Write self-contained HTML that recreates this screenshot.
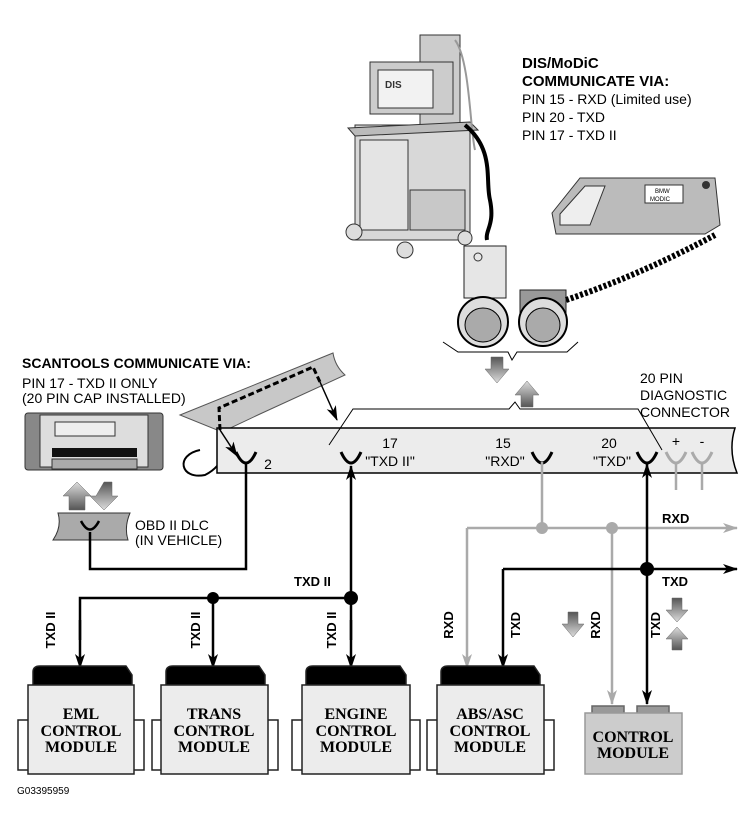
<!DOCTYPE html>
<html><head><meta charset="utf-8"><style>
html,body{margin:0;padding:0;background:#fff;}
svg{display:block;}
.s{font-family:"Liberation Sans",sans-serif;}
.m{font-family:"Liberation Serif",serif;font-weight:bold;font-size:16px;text-anchor:middle;}
</style></head><body>
<svg width="750" height="825" viewBox="0 0 750 825" xmlns="http://www.w3.org/2000/svg">
<defs>
<marker id="ab" markerWidth="15" markerHeight="10" refX="14" refY="5" orient="auto" markerUnits="userSpaceOnUse" viewBox="0 0 15 10"><path d="M0,0 L15,5 L0,10 L4,5 Z" fill="#000"/></marker>
<marker id="ag" markerWidth="15" markerHeight="10" refX="14" refY="5" orient="auto" markerUnits="userSpaceOnUse" viewBox="0 0 15 10"><path d="M0,0 L15,5 L0,10 L4,5 Z" fill="#aaa"/></marker>
<linearGradient id="gd" x1="0" y1="0" x2="0" y2="1"><stop offset="0" stop-color="#555"/><stop offset="1" stop-color="#ddd"/></linearGradient>
<linearGradient id="gu" x1="0" y1="1" x2="0" y2="0"><stop offset="0" stop-color="#555"/><stop offset="1" stop-color="#ddd"/></linearGradient>
</defs>

<!-- DIS cart -->
<g stroke="#333" stroke-width="1" fill="#ddd">
<path d="M420,35 h40 v90 h-40z" fill="#ccc"/>
<rect x="355" y="125" width="115" height="115" fill="#d8d8d8"/>
<path d="M348,128 L470,122 L478,130 L355,136 Z" fill="#bbb"/>
<rect x="360" y="140" width="48" height="90" fill="#e4e4e4"/>
<rect x="410" y="190" width="55" height="40" fill="#c8c8c8"/>
<rect x="370" y="62" width="83" height="52" fill="#ccc"/>
<rect x="378" y="70" width="55" height="38" fill="#f2f2f2"/>
<text x="385" y="88" font-size="10" font-weight="bold" fill="#333" stroke="none" class="s">DIS</text>
<circle cx="354" cy="232" r="8" fill="#ddd"/>
<circle cx="405" cy="250" r="8" fill="#ddd"/>
<circle cx="465" cy="238" r="7" fill="#ddd"/>
</g>
<path d="M455,40 C470,60 470,130 475,150" stroke="#999" stroke-width="2" fill="none"/>
<path d="M465,125 C495,150 485,180 490,200 C495,225 485,230 487,240" stroke="#000" stroke-width="4" fill="none"/>
<!-- DIS connector -->
<rect x="464" y="246" width="42" height="52" fill="#e6e6e6" stroke="#222"/>
<circle cx="478" cy="257" r="4" fill="none" stroke="#333"/>
<ellipse cx="483" cy="322" rx="25" ry="25" fill="#ddd" stroke="#000" stroke-width="2"/>
<ellipse cx="483" cy="325" rx="18" ry="17" fill="#aaa" stroke="#000"/>
<!-- MoDiC connector -->
<rect x="520" y="290" width="46" height="30" fill="#999" stroke="#222"/>
<ellipse cx="543" cy="322" rx="24" ry="24" fill="#ddd" stroke="#000" stroke-width="2"/>
<ellipse cx="543" cy="325" rx="17" ry="17" fill="#aaa" stroke="#000"/>
<path d="M566,300 Q640,275 715,235" stroke="#000" stroke-width="6" stroke-dasharray="3 2" fill="none"/>
<!-- MoDiC handset -->
<path d="M552,213 L580,178 L715,178 L720,225 L705,234 L556,234 Z" fill="#bbb" stroke="#333"/>
<path d="M560,214 L585,186 L605,186 L590,225 L560,225 Z" fill="#eee" stroke="#333"/>
<rect x="645" y="185" width="38" height="18" fill="#fff" stroke="#333"/>
<text x="655" y="193" font-size="6" class="s">BMW</text><text x="650" y="201" font-size="6" class="s">MODIC</text>
<circle cx="706" cy="185" r="4" fill="#333"/>
<!-- brace -->
<path d="M443,342 L458,352 L508,352 L512,360 L517,352 L567,352 L578,342" stroke="#000" fill="none"/>
<path d="M491,357 h12 v12 h6 l-12,14 l-12,-14 h6z" fill="url(#gd)" stroke="#666" stroke-width=".5"/>
<path d="M521,407 h12 v-12 h6 l-12,-14 l-12,14 h6z" fill="url(#gu)" stroke="#666" stroke-width=".5"/>

<text class="s" font-size="15" font-weight="bold" x="522" y="68">DIS/MoDiC</text>
<text class="s" font-size="15" font-weight="bold" x="522" y="86">COMMUNICATE VIA:</text>
<text class="s" font-size="14" x="522" y="104">PIN 15 - RXD (Limited use)</text>
<text class="s" font-size="14" x="522" y="122">PIN 20 - TXD</text>
<text class="s" font-size="14" x="522" y="140">PIN 17 - TXD II</text>

<text class="s" font-size="14" x="640" y="383">20 PIN</text>
<text class="s" font-size="14" x="640" y="400">DIAGNOSTIC</text>
<text class="s" font-size="14" x="640" y="417">CONNECTOR</text>

<text class="s" font-size="14" font-weight="bold" x="22" y="368">SCANTOOLS COMMUNICATE VIA:</text>
<text class="s" font-size="14" x="22" y="388">PIN 17 - TXD II ONLY</text>
<text class="s" font-size="14" x="22" y="403">(20 PIN CAP INSTALLED)</text>

<!-- scantool -->
<rect x="25" y="413" width="138" height="57" rx="3" fill="#888" stroke="#333"/>
<rect x="40" y="415" width="108" height="52" fill="#ddd" stroke="#333"/>
<rect x="55" y="422" width="60" height="14" fill="#eee" stroke="#333"/>
<rect x="52" y="448" width="85" height="9" fill="#111"/>
<rect x="52" y="459" width="85" height="10" fill="#aaa" stroke="#333"/>
<path d="M77,510 h-8 v-14 h-6 l14,-14 l14,14 h-6 v14z" fill="url(#gu)" stroke="#666" stroke-width=".5"/>
<path d="M104,482 h8 v14 h6 l-14,14 l-14,-14 h6z" fill="url(#gd)" stroke="#666" stroke-width=".5"/>
<!-- OBD DLC -->
<path d="M58,513 L130,513 Q124,527 128,540 L53,540 Q62,527 58,513 Z" fill="#aaa" stroke="#333"/>
<path d="M81,521 Q90,538 99,521" stroke="#000" stroke-width="2.5" fill="none"/>
<text class="s" font-size="14" x="135" y="530">OBD II DLC</text>
<text class="s" font-size="14" x="135" y="545">(IN VEHICLE)</text>

<!-- slanted plug -->
<path d="M180,415 L333,353 Q335,366 345,375 L260,414 L222,432 Z" fill="#c8c8c8" stroke="#555"/>
<path d="M200,450 C175,455 180,480 205,475 C215,470 222,462 222,455" stroke="#000" stroke-width="2" fill="none"/>
<!-- connector bar -->
<path d="M217,428 L735,428 Q728,450 737,473 L217,473 Z" fill="#ececec" stroke="#000" stroke-width="1.5"/>
<!-- dashed -->
<path d="M220,430 L219,408 L313,367 L320,382" stroke="#000" stroke-width="3" stroke-dasharray="6 3" fill="none"/>
<line x1="220" y1="430" x2="237" y2="456" stroke="#000" stroke-width="1.5" marker-end="url(#ab)"/>
<line x1="320" y1="382" x2="337" y2="420" stroke="#000" stroke-width="1.5" marker-end="url(#ab)"/>
<!-- bracket line -->
<path d="M329,445 L353,409 L509,409 L515,402 L520,409 L638,409 L662,450" stroke="#000" fill="none"/>
<!-- pins -->
<g fill="none" stroke-width="3">
<path d="M236,452 Q246,474 256,452" stroke="#000"/>
<path d="M341,452 Q351,474 361,452" stroke="#000"/>
<path d="M532,452 Q542,474 552,452" stroke="#000"/>
<path d="M637,452 Q647,474 657,452" stroke="#000"/>
<path d="M666,452 Q676,474 686,452" stroke="#aaa"/>
<path d="M692,452 Q702,474 712,452" stroke="#aaa"/>
</g>
<line x1="676" y1="464" x2="676" y2="490" stroke="#aaa" stroke-width="2.5"/>
<line x1="702" y1="464" x2="702" y2="490" stroke="#aaa" stroke-width="2.5"/>
<g class="s" font-size="14" text-anchor="middle">
<text x="268" y="469">2</text>
<text x="390" y="448">17</text><text x="390" y="466">"TXD II"</text>
<text x="503" y="448">15</text><text x="505" y="466">"RXD"</text>
<text x="609" y="448">20</text><text x="612" y="466">"TXD"</text>
<text x="676" y="446">+</text><text x="702" y="446">-</text>
</g>

<!-- wiring -->
<g fill="none" stroke-width="2.5">
<path d="M90,532 L90,569 L246,569 L246,462" stroke="#000"/>
<line x1="351" y1="598" x2="351" y2="466" stroke="#000" marker-end="url(#ab)"/>
<path d="M80,640 L80,598 L351,598 L351,640" stroke="#000"/>
<line x1="80" y1="620" x2="80" y2="668" stroke="#000" marker-end="url(#ab)"/>
<line x1="213" y1="598" x2="213" y2="668" stroke="#000" marker-end="url(#ab)"/>
<line x1="351" y1="620" x2="351" y2="668" stroke="#000" marker-end="url(#ab)"/>
<line x1="542" y1="462" x2="542" y2="528" stroke="#aaa"/>
<line x1="467" y1="528" x2="737" y2="528" stroke="#aaa" marker-end="url(#ag)"/>
<line x1="467" y1="528" x2="467" y2="668" stroke="#aaa" marker-end="url(#ag)"/>
<line x1="612" y1="528" x2="612" y2="704" stroke="#aaa" marker-end="url(#ag)"/>
<line x1="647" y1="569" x2="647" y2="464" stroke="#000" marker-end="url(#ab)"/>
<line x1="503" y1="569" x2="737" y2="569" stroke="#000" marker-end="url(#ab)"/>
<line x1="503" y1="569" x2="503" y2="668" stroke="#000" marker-end="url(#ab)"/>
<line x1="647" y1="569" x2="647" y2="704" stroke="#000" marker-end="url(#ab)"/>
</g>
<circle cx="213" cy="598" r="6"/><circle cx="351" cy="598" r="7"/>
<circle cx="542" cy="528" r="6" fill="#aaa"/><circle cx="612" cy="528" r="6" fill="#aaa"/>
<circle cx="647" cy="569" r="7"/>
<g class="s" font-size="13" font-weight="bold">
<text x="294" y="586">TXD II</text>
<text x="662" y="523">RXD</text>
<text x="662" y="586">TXD</text>
</g>
<g class="s" font-size="13" font-weight="bold" text-anchor="middle">
<text transform="translate(55,630) rotate(-90)">TXD II</text>
<text transform="translate(200,630) rotate(-90)">TXD II</text>
<text transform="translate(336,630) rotate(-90)">TXD II</text>
<text transform="translate(453,625) rotate(-90)">RXD</text>
<text transform="translate(520,625) rotate(-90)">TXD</text>
<text transform="translate(600,625) rotate(-90)">RXD</text>
<text transform="translate(660,625) rotate(-90)">TXD</text>
</g>
<path d="M568,612 h10 v12 h6 l-11,13 l-11,-13 h6z" fill="url(#gd)" stroke="#666" stroke-width=".5"/>
<path d="M672,598 h10 v12 h6 l-11,12 l-11,-12 h6z" fill="url(#gd)" stroke="#666" stroke-width=".5"/>
<path d="M672,650 h10 v-11 h6 l-11,-12 l-11,12 h6z" fill="url(#gu)" stroke="#666" stroke-width=".5"/>

<!-- modules -->
<g stroke="#222" stroke-width="1.5">
<g>
<rect x="18" y="720" width="12" height="50" fill="#fff"/><rect x="132" y="720" width="12" height="50" fill="#fff"/>
<path d="M33,685 L33,672 Q33,666 40,666 L126,666 L132,675 L132,685 Z" fill="#000"/>
<rect x="28" y="685" width="106" height="89" fill="#ececec"/>
</g>
<g>
<rect x="152" y="720" width="12" height="50" fill="#fff"/><rect x="266" y="720" width="12" height="50" fill="#fff"/>
<path d="M166,685 L166,672 Q166,666 173,666 L259,666 L265,675 L265,685 Z" fill="#000"/>
<rect x="161" y="685" width="107" height="89" fill="#ececec"/>
</g>
<g>
<rect x="292" y="720" width="12" height="50" fill="#fff"/><rect x="408" y="720" width="12" height="50" fill="#fff"/>
<path d="M306,685 L306,672 Q306,666 313,666 L400,666 L406,675 L406,685 Z" fill="#000"/>
<rect x="302" y="685" width="108" height="89" fill="#ececec"/>
</g>
<g>
<rect x="427" y="720" width="12" height="50" fill="#fff"/><rect x="542" y="720" width="12" height="50" fill="#fff"/>
<path d="M441,685 L441,672 Q441,666 448,666 L534,666 L540,675 L540,685 Z" fill="#000"/>
<rect x="437" y="685" width="107" height="89" fill="#ececec"/>
</g>
<rect x="592" y="706" width="32" height="8" fill="#999" stroke="#666"/>
<rect x="637" y="706" width="32" height="8" fill="#999" stroke="#666"/>
<rect x="585" y="713" width="97" height="61" fill="#ccc" stroke="#999"/>
</g>
<g class="m">
<text x="81" y="719">EML</text><text x="81" y="736">CONTROL</text><text x="81" y="752">MODULE</text>
<text x="214" y="719">TRANS</text><text x="214" y="736">CONTROL</text><text x="214" y="752">MODULE</text>
<text x="356" y="719">ENGINE</text><text x="356" y="736">CONTROL</text><text x="356" y="752">MODULE</text>
<text x="490" y="719">ABS/ASC</text><text x="490" y="736">CONTROL</text><text x="490" y="752">MODULE</text>
<text x="633" y="742">CONTROL</text><text x="633" y="758">MODULE</text>
</g>
<text class="s" font-size="10" x="17" y="794">G03395959</text>
</svg>
</body></html>
